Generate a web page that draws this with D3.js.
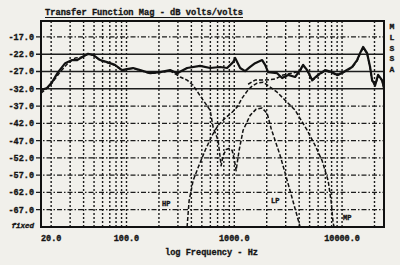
<!DOCTYPE html>
<html>
<head>
<meta charset="utf-8">
<script src="https://cdn.jsdelivr.net/npm/d3@7"></script>
<style>
  body { margin: 0; background: #f1f0eb; }
  svg { display: block; }
  .lbl { font-family: "Liberation Mono", "DejaVu Sans Mono", monospace; font-weight: bold; fill: #151515; stroke: #151515; stroke-width: 0.35px; }
</style>
</head>
<body>
<div id="chart"></div>
<script>
// total response (solid)
var freqTotal = [16.1, 18.3, 20.4, 23.2, 27, 31.3, 34.9, 38.8, 44, 49, 57, 66, 78, 91, 101, 115, 134, 166, 205, 254, 295, 365, 482, 597, 739, 858, 976, 1019, 1134, 1260, 1403, 1561, 1813, 1934, 2060, 2498, 2780, 3162, 3667, 4083, 4355, 4743, 5276, 6000, 6966, 8090, 9000, 10230, 12400, 13800, 14700, 15680, 17080, 18200, 19000, 20280, 21600, 23500, 24500];
var dbTotal   = [-32.4, -31.8, -30.1, -27.2, -24.6, -23.7, -23.7, -22.8, -21.9, -22.2, -23.7, -24.3, -25.1, -26.6, -26.3, -26.0, -26.6, -27.5, -27.2, -26.6, -27.5, -26.0, -25.4, -26.0, -25.7, -26.0, -24.3, -23.1, -26.0, -26.9, -25.7, -24.6, -23.7, -25.1, -27.2, -27.5, -28.9, -28.0, -28.6, -26.6, -25.1, -26.6, -29.5, -28.0, -26.6, -27.2, -28.0, -27.2, -25.7, -23.7, -21.7, -19.9, -21.7, -25.7, -29.5, -31.0, -28.0, -29.5, -31.8];

// woofer low pass (dashed)
var freqLP = [16.1, 19.6, 24.2, 28.7, 33.4, 38.8, 44, 49, 57, 66, 78, 91, 101, 115, 134, 166, 205, 254, 315, 365, 415, 514, 597, 637, 708, 755, 788, 840, 896, 955, 997, 1040, 1109, 1208, 1403, 1596, 1813, 2018, 2198, 2662, 3296, 4083];
var dbLP   = [-33.3, -31.0, -27.2, -24.6, -23.1, -22.9, -22.0, -22.3, -23.8, -24.4, -25.2, -26.7, -26.4, -26.1, -26.7, -27.6, -27.3, -26.8, -28.6, -29.5, -31.0, -35.3, -38.2, -43.2, -46.9, -54.3, -51.3, -49.6, -49.3, -49.8, -52.2, -55.7, -49.8, -44.0, -39.7, -37.9, -37.6, -39.1, -43.5, -51.3, -61.5, -72];

// mid pass (dashed)
var freqMP = [365, 381, 415, 462, 537, 623, 708, 822, 955, 1063, 1183, 1316, 1464, 1630, 1853, 2151, 2498, 3092, 3667, 4743, 5620, 6530, 7430, 7910, 8260, 8440];
var dbMP   = [-72, -64.4, -58.6, -54.8, -49.8, -45.5, -42.6, -40.5, -38.8, -37.3, -34.7, -32.7, -31.2, -30.4, -30.1, -31.5, -33.0, -35.9, -38.2, -44.0, -48.4, -52.8, -58.6, -64.4, -70.8, -72];

// tweeter high pass (dashed)
var freqHP = [1344, 1561, 1934, 2394, 2840, 3440, 4083, 4355, 4743, 5276, 6000, 6966, 8090, 9000, 10230, 12400, 13800, 14700, 15680, 17080, 18200, 19000, 20280, 21600, 23500, 24500];
var dbHP   = [-30.7, -29.5, -29.5, -29.2, -28.0, -27.5, -26.9, -25.3, -26.8, -29.7, -28.2, -26.8, -27.4, -28.2, -27.4, -25.9, -23.9, -21.9, -20.1, -21.9, -25.9, -29.7, -31.2, -28.2, -29.7, -32.0];

var yTicks = [-17, -22, -27, -32, -37, -42, -47, -52, -57, -62, -67];
var solidRows = [-22, -27, -32];
var xGrid = [20, 30, 40, 50, 60, 70, 80, 90, 100, 200, 300, 400, 500, 600, 700, 800, 900, 1000, 2000, 3000, 4000, 5000, 6000, 7000, 8000, 9000, 10000, 20000];
var xLabels = [20, 100, 1000, 10000];
var sideLetters = ["M", "L", "S", "S", "A"];

var W = 400, H = 265;
var plot = { left: 41, top: 21, right: 384, bottom: 227 };

var svg = d3.select("#chart").append("svg")
    .attr("width", W)
    .attr("height", H);

svg.append("rect").attr("width", W).attr("height", H).attr("fill", "#f1f0eb");

var x = d3.scaleLog().domain([16.1, 24500]).range([plot.left, plot.right]);
var y = d3.scaleLinear().domain([-72, -12.4]).range([plot.bottom, plot.top]);

svg.append("clipPath").attr("id", "clip")
  .append("rect")
    .attr("x", plot.left).attr("y", plot.top)
    .attr("width", plot.right - plot.left).attr("height", plot.bottom - plot.top);

// vertical dotted grid
svg.append("g").selectAll("line")
    .data(xGrid)
    .enter().append("line")
    .attr("x1", d => x(d)).attr("x2", d => x(d))
    .attr("y1", plot.top).attr("y2", plot.bottom)
    .attr("stroke", "#1c1c1c")
    .attr("stroke-width", 1.4)
    .attr("stroke-dasharray", "2,2");

// horizontal grid, some rows solid
svg.append("g").selectAll("line")
    .data(yTicks)
    .enter().append("line")
    .attr("x1", plot.left - 5).attr("x2", plot.right)
    .attr("y1", d => y(d)).attr("y2", d => y(d))
    .attr("stroke", "#1c1c1c")
    .attr("stroke-width", d => solidRows.indexOf(d) >= 0 ? 1.5 : 1.3)
    .attr("stroke-dasharray", d => solidRows.indexOf(d) >= 0 ? null : "5,2,1.5,2");

// y labels
svg.append("g").selectAll("text")
    .data(yTicks)
    .enter().append("text")
    .attr("class", "lbl")
    .attr("x", 34)
    .attr("y", d => y(d) + 3)
    .attr("text-anchor", "end")
    .style("font-size", "8.5px")
    .text(d => d.toFixed(1));

svg.append("text")
    .attr("class", "lbl")
    .attr("x", 34).attr("y", 228)
    .attr("text-anchor", "end")
    .style("font-size", "7.5px")
    .style("font-style", "italic")
    .text("fixed");

// x labels
svg.append("g").selectAll("text")
    .data(xLabels)
    .enter().append("text")
    .attr("class", "lbl")
    .attr("x", d => x(d))
    .attr("y", 241)
    .attr("text-anchor", "middle")
    .style("font-size", "8.5px")
    .text(d => d.toFixed(1));

// curves
var line = d3.line()
    .x(d => x(d[0]))
    .y(d => y(d[1]));

var curves = svg.append("g").attr("clip-path", "url(#clip)");

function drawCurve(freqs, dbs, width, dash) {
    curves.append("path")
        .datum(d3.zip(freqs, dbs))
        .attr("fill", "none")
        .attr("stroke", "#111")
        .attr("stroke-width", width)
        .attr("stroke-linejoin", "round")
        .attr("stroke-dasharray", dash)
        .attr("d", line);
}

drawCurve(freqLP, dbLP, 1.5, "4,2");
drawCurve(freqMP, dbMP, 1.5, "4,2");
drawCurve(freqHP, dbHP, 1.5, "4,2");
drawCurve(freqTotal, dbTotal, 2.2, null);

// curve tags
var tags = [["HP", 162, 206], ["LP", 271, 203], ["MP", 343, 220]];
svg.append("g").selectAll("text")
    .data(tags)
    .enter().append("text")
    .attr("class", "lbl")
    .attr("x", d => d[1]).attr("y", d => d[2])
    .style("font-size", "7px")
    .text(d => d[0]);

// frame
svg.append("rect")
    .attr("x", plot.left).attr("y", plot.top)
    .attr("width", plot.right - plot.left).attr("height", plot.bottom - plot.top)
    .attr("fill", "none")
    .attr("stroke", "#111")
    .attr("stroke-width", 2);

// title
svg.append("text")
    .attr("class", "lbl")
    .attr("x", 45).attr("y", 15)
    .attr("textLength", 198)
    .attr("lengthAdjust", "spacingAndGlyphs")
    .style("font-size", "9.5px")
    .text("Transfer Function Mag - dB volts/volts");
svg.append("line")
    .attr("x1", 45).attr("x2", 243)
    .attr("y1", 17.5).attr("y2", 17.5)
    .attr("stroke", "#151515").attr("stroke-width", 1.2);

svg.append("text")
    .attr("class", "lbl")
    .attr("x", 165).attr("y", 255)
    .attr("textLength", 93)
    .attr("lengthAdjust", "spacingAndGlyphs")
    .style("font-size", "9.5px")
    .text("log Frequency - Hz");

// side tag
svg.append("g").selectAll("text")
    .data(sideLetters)
    .enter().append("text")
    .attr("class", "lbl")
    .attr("x", 392)
    .attr("y", (d, i) => 29 + i * 10.8)
    .attr("text-anchor", "middle")
    .style("font-size", "8px")
    .text(d => d);
</script>
</body>
</html>
